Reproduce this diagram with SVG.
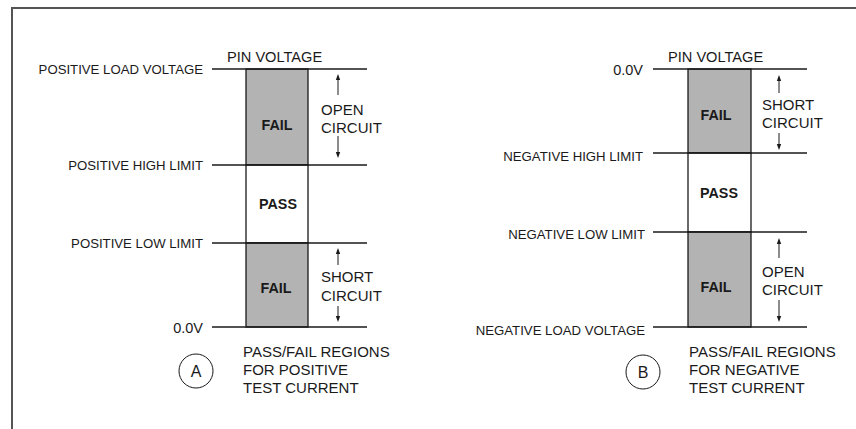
<svg xmlns="http://www.w3.org/2000/svg" width="856" height="429" viewBox="0 0 856 429">
<style>
.t{font-family:"Liberation Sans",Arial,sans-serif;font-size:15px;fill:#1a1a1a}
.l{font-family:"Liberation Sans",Arial,sans-serif;font-size:13.2px;fill:#1a1a1a;text-anchor:end}
.b{font-family:"Liberation Sans",Arial,sans-serif;font-size:14.3px;font-weight:bold;fill:#1a1a1a;text-anchor:middle}
.ln{stroke:#1a1a1a;stroke-width:1.3;fill:none}
.fail{fill:#b3b3b3;stroke:#1a1a1a;stroke-width:1.3}
.pass{fill:#fff;stroke:#1a1a1a;stroke-width:1.3}
.ar{stroke:#1a1a1a;stroke-width:1;fill:none}
.hd{fill:#1a1a1a}
</style>
<rect width="856" height="429" fill="#fff"/>
<g id="frame">
<path d="M12,429 V8 H856" fill="none" stroke="#555" stroke-width="2"/>
</g>
<g id="panelA">
<g id="A-bars">
<rect class="fail" x="246" y="69" width="62" height="96"/>
<rect class="pass" x="246" y="165" width="62" height="78"/>
<rect class="fail" x="246" y="243" width="62" height="84"/>
</g>
<g id="A-levels">
<line class="ln" x1="212" y1="69" x2="367" y2="69"/>
<line class="ln" x1="212" y1="165" x2="367" y2="165"/>
<line class="ln" x1="212" y1="243" x2="367" y2="243"/>
<line class="ln" x1="212" y1="327" x2="367" y2="327"/>
</g>
<text class="t" x="227" y="62" style="font-size:14.6px">PIN VOLTAGE</text>
<text class="l" x="203" y="74">POSITIVE LOAD VOLTAGE</text>
<text class="l" x="203" y="170">POSITIVE HIGH LIMIT</text>
<text class="l" x="203" y="248">POSITIVE LOW LIMIT</text>
<text class="l" x="203" y="333" style="font-size:14.5px">0.0V</text>
<text class="b" x="277" y="130">FAIL</text>
<text class="b" x="278" y="209">PASS</text>
<text class="b" x="276" y="293">FAIL</text>
<text class="t" x="321" y="115">OPEN</text>
<text class="t" x="321" y="133">CIRCUIT</text>
<text class="t" x="321" y="282">SHORT</text>
<text class="t" x="321" y="301">CIRCUIT</text>
<text class="t" x="243" y="357">PASS/FAIL REGIONS</text>
<text class="t" x="243" y="375">FOR POSITIVE</text>
<text class="t" x="243" y="393">TEST CURRENT</text>
<g id="A-label">
<circle cx="196" cy="371" r="17" fill="none" stroke="#1a1a1a" stroke-width="1"/>
<text class="t" x="196" y="377" text-anchor="middle" style="font-size:16px">A</text>
</g>
</g>
<g id="panelB">
<g id="B-bars">
<rect class="fail" x="688" y="69" width="63" height="84"/>
<rect class="pass" x="688" y="153" width="63" height="79"/>
<rect class="fail" x="688" y="232" width="63" height="95"/>
</g>
<g id="B-levels">
<line class="ln" x1="653" y1="69" x2="807" y2="69"/>
<line class="ln" x1="653" y1="153" x2="807" y2="153"/>
<line class="ln" x1="653" y1="232" x2="807" y2="232"/>
<line class="ln" x1="653" y1="327" x2="807" y2="327"/>
</g>
<text class="t" x="668" y="62" style="font-size:14.6px">PIN VOLTAGE</text>
<text class="l" x="643" y="75" style="font-size:14.5px">0.0V</text>
<text class="l" x="643" y="161">NEGATIVE HIGH LIMIT</text>
<text class="l" x="645" y="239">NEGATIVE LOW LIMIT</text>
<text class="l" x="645" y="335">NEGATIVE LOAD VOLTAGE</text>
<text class="b" x="716" y="120">FAIL</text>
<text class="b" x="719" y="198">PASS</text>
<text class="b" x="716" y="292">FAIL</text>
<text class="t" x="762" y="110">SHORT</text>
<text class="t" x="762" y="128">CIRCUIT</text>
<text class="t" x="762" y="277">OPEN</text>
<text class="t" x="762" y="295">CIRCUIT</text>
<text class="t" x="689" y="357">PASS/FAIL REGIONS</text>
<text class="t" x="689" y="375">FOR NEGATIVE</text>
<text class="t" x="689" y="393">TEST CURRENT</text>
<g id="B-label">
<circle cx="643" cy="372" r="17" fill="none" stroke="#1a1a1a" stroke-width="1"/>
<text class="t" x="643" y="378" text-anchor="middle" style="font-size:16px">B</text>
</g>
</g>
<g id="connectors">
<line class="ar" x1="338" y1="78" x2="338" y2="95"/>
<path class="hd" d="M338,74 L335.8,80 L340.2,80 Z"/>
<line class="ar" x1="338" y1="136" x2="338" y2="154"/>
<path class="hd" d="M338,158 L335.8,152 L340.2,152 Z"/>
<line class="ar" x1="338" y1="252" x2="338" y2="265"/>
<path class="hd" d="M338,248 L335.8,254 L340.2,254 Z"/>
<line class="ar" x1="338" y1="306" x2="338" y2="318"/>
<path class="hd" d="M338,322 L335.8,316 L340.2,316 Z"/>
<line class="ar" x1="779" y1="79" x2="779" y2="93"/>
<path class="hd" d="M779,75 L776.8,81 L781.2,81 Z"/>
<line class="ar" x1="779" y1="133" x2="779" y2="146"/>
<path class="hd" d="M779,150 L776.8,144 L781.2,144 Z"/>
<line class="ar" x1="779" y1="242" x2="779" y2="258"/>
<path class="hd" d="M779,238 L776.8,244 L781.2,244 Z"/>
<line class="ar" x1="779" y1="300" x2="779" y2="318"/>
<path class="hd" d="M779,322 L776.8,316 L781.2,316 Z"/>
</g>
</svg>
